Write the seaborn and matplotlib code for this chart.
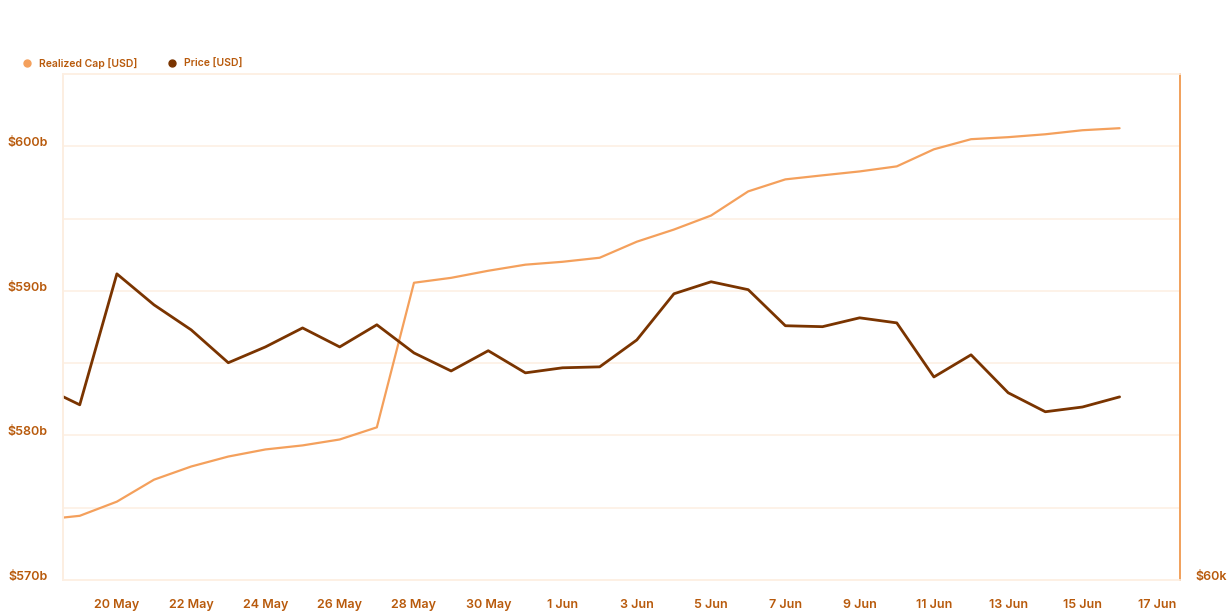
import pandas as pd
import numpy as np
import matplotlib
matplotlib.use("Agg")
import matplotlib.pyplot as plt
from matplotlib.lines import Line2D
import seaborn as sns

# === Data ===
dates = pd.date_range("2024-05-18", "2024-06-16", freq="D")
realized_cap_b = [574.17, 574.44, 575.42, 576.94, 577.85, 578.54, 579.03, 579.31, 579.72, 580.56,
                  590.56, 590.90, 591.39, 591.81, 592.01, 592.29, 593.40, 594.24, 595.21, 596.88,
                  597.71, 597.99, 598.26, 598.61, 599.79, 600.49, 600.63, 600.83, 601.11, 601.25]
price_k = [66.11, 65.54, 69.68, 68.70, 67.91, 66.87, 67.37, 67.97, 67.37, 68.07,
           67.18, 66.61, 67.25, 66.55, 66.71, 66.74, 67.59, 69.05, 69.43, 69.18,
           68.04, 68.01, 68.29, 68.13, 66.42, 67.12, 65.92, 65.32, 65.47, 65.79]
left_ticks = [570, 580, 590, 600]
left_labels = ["$570b", "$580b", "$590b", "$600b"]

df = pd.DataFrame({"date": dates, "cap": realized_cap_b, "price": np.array(price_k) * 1000})

# === Style ===
CAP_COLOR = "#F4A05C"
PRICE_COLOR = "#7A3400"
TEXT_COLOR = "#B85A0C"
GRID_COLOR = "#FDF0E4"

sns.set_theme(style="white")
plt.rcParams["font.family"] = ["Inter", "DejaVu Sans"]

fig = plt.figure(figsize=(12.3, 6.15), dpi=100)
ax = fig.add_axes([0.0512, 0.0569, 0.9081, 0.8228])
ax2 = ax.twinx()

sns.lineplot(data=df, x="date", y="cap", ax=ax, color=CAP_COLOR, linewidth=1.6)
sns.lineplot(data=df, x="date", y="price", ax=ax2, color=PRICE_COLOR, linewidth=2.0)

# === Axes ===
ax.set_xlim(pd.Timestamp("2024-05-18 13:10"), pd.Timestamp("2024-06-17 15:00"))
ax.set_ylim(570, 605)
ax2.set_ylim(60000, 76000)

ax.set_yticks(left_ticks)
ax.set_yticklabels(left_labels)
ax.set_yticks([575, 585, 595, 605], minor=True)
ax.grid(True, which="both", axis="y", color=GRID_COLOR, linewidth=1.2)
ax.set_axisbelow(True)

ax2.set_yticks([60000])
ax2.set_yticklabels(["$60k"])

tick_dates = pd.date_range("2024-05-20", "2024-06-17", freq="2D")
ax.set_xticks(tick_dates)
ax.set_xticklabels([f"{d.day} {d.strftime('%b')}" for d in tick_dates])

for a in (ax, ax2):
    a.set_xlabel("")
    a.set_ylabel("")
    for s in a.spines.values():
        s.set_color(GRID_COLOR)
        s.set_linewidth(1.2)

ax2.spines["right"].set_color("#F09A50")
ax2.spines["right"].set_linewidth(1.3)
ax.spines["left"].set_color("#FCE3CD")

ax.tick_params(axis="x", length=5, color=GRID_COLOR, pad=9, labelsize=9, labelcolor=TEXT_COLOR)
ax.tick_params(axis="y", which="both", length=0, pad=11, labelsize=9, labelcolor=TEXT_COLOR)
ax2.tick_params(axis="y", length=0, pad=11, labelsize=9, labelcolor=TEXT_COLOR)
for lbl in ax.get_yticklabels() + ax.get_xticklabels() + ax2.get_yticklabels():
    lbl.set_fontweight("semibold")
for lbl in ax.get_yticklabels() + ax2.get_yticklabels():
    lbl.set_verticalalignment("baseline")

# === Legend ===
handles = [Line2D([], [], marker="o", linestyle="", color=CAP_COLOR, markersize=5),
           Line2D([], [], marker="o", linestyle="", color=PRICE_COLOR, markersize=5)]
fig.legend(handles, ["Realized Cap [USD]", "Price [USD]"], loc="center left",
           bbox_to_anchor=(0.006, 0.897), ncol=2, frameon=False,
           handletextpad=0.1, columnspacing=2.4, labelcolor=TEXT_COLOR,
           prop={"weight": "semibold", "size": 7.5})

plt.savefig("out.png", dpi=100)
